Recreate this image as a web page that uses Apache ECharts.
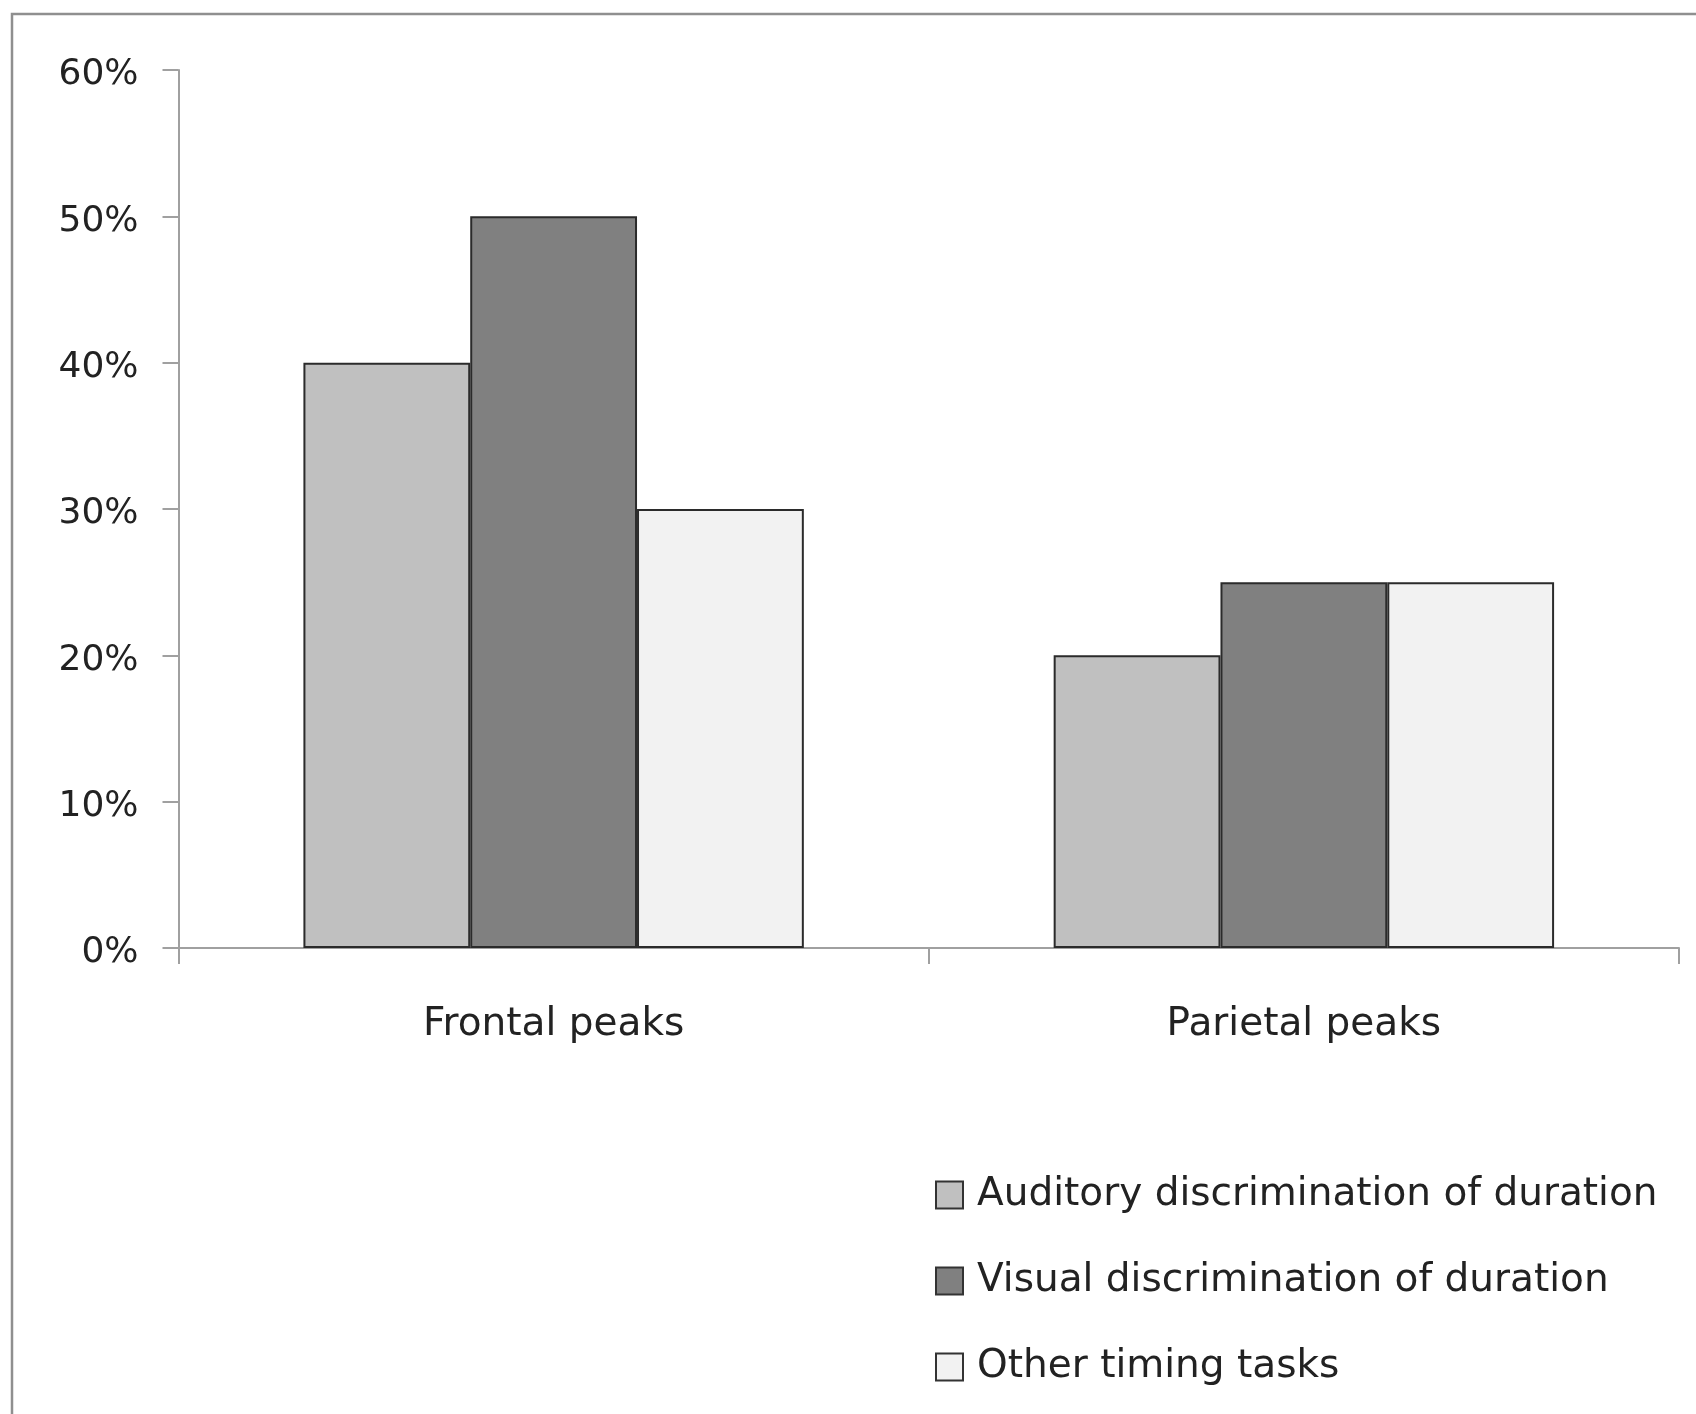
<!DOCTYPE html>
<html>
<head>
<meta charset="utf-8">
<style>
html,body{margin:0;padding:0;background:#fff;}
#chart{width:1696px;height:1414px;}
</style>
<script src="https://cdn.jsdelivr.net/npm/echarts@6/dist/echarts.min.js"></script>
</head>
<body>
<div id="chart"></div>
<script>
const categories = ['Frontal peaks', 'Parietal peaks'];
const seriesNames = ['Auditory discrimination of duration', 'Visual discrimination of duration', 'Other timing tasks'];
const auditory = [0.40, 0.20];
const visual = [0.50, 0.25];
const other = [0.30, 0.25];
const colors = ['#c0c0c0', '#808080', '#f2f2f2'];

const chart = echarts.init(document.getElementById('chart'), null, {renderer: 'canvas'});
const font = 'DejaVu Sans';
const axisGray = '#a0a0a0';
const dataSets = [auditory, visual, other];

chart.setOption({
  animation: false,
  backgroundColor: '#fff',
  graphic: [{
    type: 'rect',
    shape: {x: 12, y: 14, width: 1720, height: 1440},
    style: {fill: 'none', stroke: '#8f8f8f', lineWidth: 2.5},
    silent: true
  }],
  grid: {left: 178.5, right: 17, top: 70, bottom: 466, containLabel: false},
  xAxis: {
    type: 'category',
    data: categories,
    axisLine: {lineStyle: {color: axisGray, width: 2}},
    axisTick: {show: true, length: 16, alignWithLabel: false, lineStyle: {color: axisGray, width: 2}},
    axisLabel: {fontFamily: font, fontSize: 39, color: '#222', margin: 57}
  },
  yAxis: {
    type: 'value',
    min: 0, max: 0.6, interval: 0.1,
    axisLine: {show: true, lineStyle: {color: axisGray, width: 2}},
    axisTick: {show: true, length: 16, inside: false, lineStyle: {color: axisGray, width: 2}},
    splitLine: {show: false},
    axisLabel: {
      fontFamily: font, fontSize: 36, color: '#222', margin: 40,
      formatter: v => '{p|' + Math.round(v * 100) + '%}',
      rich: {p: {fontFamily: font, fontSize: 36, color: '#222', padding: [10, 0, 0, 0]}}
    }
  },
  legend: {
    orient: 'vertical',
    left: 930,
    top: 1170,
    itemWidth: 27,
    itemHeight: 27,
    itemGap: 46,
    icon: 'rect',
    textStyle: {fontFamily: font, fontSize: 39, color: '#222', lineHeight: 40, padding: [0, 0, 0, 9]},
    data: seriesNames.map((n, i) => ({name: n, itemStyle: {color: colors[i], borderColor: '#333', borderWidth: 2}}))
  },
  series: seriesNames.map((n, i) => ({
    name: n,
    type: 'bar',
    data: dataSets[i],
    barGap: '0%',
    barCategoryGap: '33.3%',
    itemStyle: {color: colors[i], borderColor: '#2b2b2b', borderWidth: 2}
  }))
});
</script>
</body>
</html>
